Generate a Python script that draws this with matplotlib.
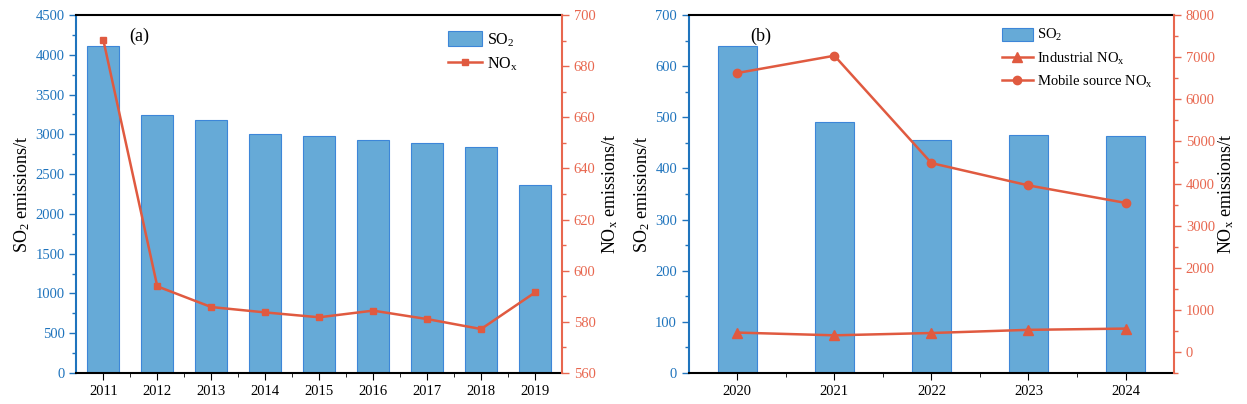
import numpy as np
import matplotlib.pyplot as plt
from matplotlib.ticker import MultipleLocator

plt.rcParams['font.family'] = ['Liberation Serif', 'DejaVu Serif']
plt.rcParams['mathtext.fontset'] = 'custom'
plt.rcParams['mathtext.rm'] = 'Liberation Serif'
plt.rcParams['mathtext.default'] = 'regular'

# panel (a)
years_a = ['2011', '2012', '2013', '2014', '2015', '2016', '2017', '2018', '2019']
so2_a = [4105, 3240, 3185, 3010, 2975, 2925, 2887, 2842, 2368]
nox_a = [690.3, 593.9, 585.8, 583.7, 581.8, 584.4, 581.1, 577.2, 591.5]

# panel (b)
years_b = ['2020', '2021', '2022', '2023', '2024']
so2_b = [639, 490, 455, 465, 463]
nox_ind = [460, 395, 450, 525, 555]
nox_mob = [6625, 7035, 4485, 3955, 3540]

bar_c = '#66aad7'
bar_edge = '#3d86d8'
line_c = '#e05a40'
blue = '#1f74bd'
red = '#e8674f'

fig = plt.figure(figsize=(12.47, 4.04), dpi=100)


def style_axes(ax, ax2):
    ax.spines['left'].set_color(blue)
    ax.spines['left'].set_linewidth(1.5)
    ax.spines['right'].set_visible(False)
    ax.spines['top'].set_linewidth(1.5)
    ax.spines['bottom'].set_linewidth(1.5)
    ax2.spines['right'].set_color(red)
    ax2.spines['right'].set_linewidth(1.5)
    ax2.spines['left'].set_visible(False)
    ax2.spines['top'].set_visible(False)
    ax2.spines['bottom'].set_visible(False)
    ax.tick_params(axis='y', which='both', colors=blue, direction='out', labelsize=10.5)
    ax.tick_params(axis='y', which='major', length=5, width=1)
    ax.tick_params(axis='y', which='minor', length=3, width=1)
    ax2.tick_params(axis='y', which='both', colors=red, direction='out', labelsize=10.5)
    ax2.tick_params(axis='y', which='major', length=5, width=1)
    ax2.tick_params(axis='y', which='minor', length=3, width=1)
    ax.tick_params(axis='x', which='major', direction='out', length=5, labelsize=10.5)
    ax.tick_params(axis='x', which='minor', direction='out', length=3)


# (a)
ax = fig.add_axes([0.0612, 0.0767, 0.3895, 0.886])
x = np.arange(len(years_a))
ax.bar(x, so2_a, width=0.6, color=bar_c, edgecolor=bar_edge, linewidth=0.8, label='SO$_2$')
ax.set_xlim(-0.5, len(years_a) - 0.5)
ax.set_ylim(0, 4500)
ax.set_xticks(x)
ax.set_xticklabels(years_a)
ax.set_xticks(x[:-1] + 0.5, minor=True)
ax.yaxis.set_major_locator(MultipleLocator(500))
ax.yaxis.set_minor_locator(MultipleLocator(250))
ax.set_ylabel('SO$_2$ emissions/t', fontsize=13, labelpad=2)
ax2 = ax.twinx()
ax2.plot(x, nox_a, color=line_c, marker='s', markersize=5, linewidth=1.8, label='NO$_x$')
ax2.set_ylim(560, 700)
ax2.yaxis.set_major_locator(MultipleLocator(20))
ax2.yaxis.set_minor_locator(MultipleLocator(10))
ax2.set_ylabel('NO$_x$ emissions/t', fontsize=13, labelpad=3)
style_axes(ax, ax2)
ax.text(0.11, 0.941, '(a)', transform=ax.transAxes, fontsize=13, va='center')
h1, l1 = ax.get_legend_handles_labels()
h2, l2 = ax2.get_legend_handles_labels()
ax2.legend(h1 + h2, l1 + l2, loc='upper left', bbox_to_anchor=(0.766, 0.955), frameon=False,
           fontsize=11.5, handlelength=2.1, handleheight=1.05, handletextpad=0.35,
           labelspacing=0.45, borderpad=0, borderaxespad=0)

# (b)
bx = fig.add_axes([0.5524, 0.0767, 0.3891, 0.886])
xb = np.arange(len(years_b))
bx.bar(xb, so2_b, width=0.4, color=bar_c, edgecolor=bar_edge, linewidth=0.8, label='SO$_2$')
bx.set_xlim(-0.5, len(years_b) - 0.5)
bx.set_ylim(0, 700)
bx.set_xticks(xb)
bx.set_xticklabels(years_b)
bx.set_xticks(xb[:-1] + 0.5, minor=True)
bx.yaxis.set_major_locator(MultipleLocator(100))
bx.yaxis.set_minor_locator(MultipleLocator(50))
bx.set_ylabel('SO$_2$ emissions/t', fontsize=13, labelpad=2)
bx2 = bx.twinx()
bx2.plot(xb, nox_ind, color=line_c, marker='^', markersize=6.5, linewidth=1.8, label='Industrial NO$_x$')
bx2.plot(xb, nox_mob, color=line_c, marker='o', markersize=6, linewidth=1.8, label='Mobile source NO$_x$')
bx2.set_ylim(-500, 8000)
bx2.yaxis.set_major_locator(MultipleLocator(1000))
bx2.yaxis.set_minor_locator(MultipleLocator(500))
bx2.set_ylabel('NO$_x$ emissions/t', fontsize=13, labelpad=1)
style_axes(bx, bx2)
bx.text(0.126, 0.941, '(b)', transform=bx.transAxes, fontsize=13, va='center')
h1, l1 = bx.get_legend_handles_labels()
h2, l2 = bx2.get_legend_handles_labels()
bx2.legend(h1 + h2, l1 + l2, loc='upper left', bbox_to_anchor=(0.6455, 0.966), frameon=False,
           fontsize=10.5, handlelength=2.1, handleheight=1.0, handletextpad=0.3,
           labelspacing=0.5, borderpad=0, borderaxespad=0)

fig.savefig('out.png', dpi=100)
